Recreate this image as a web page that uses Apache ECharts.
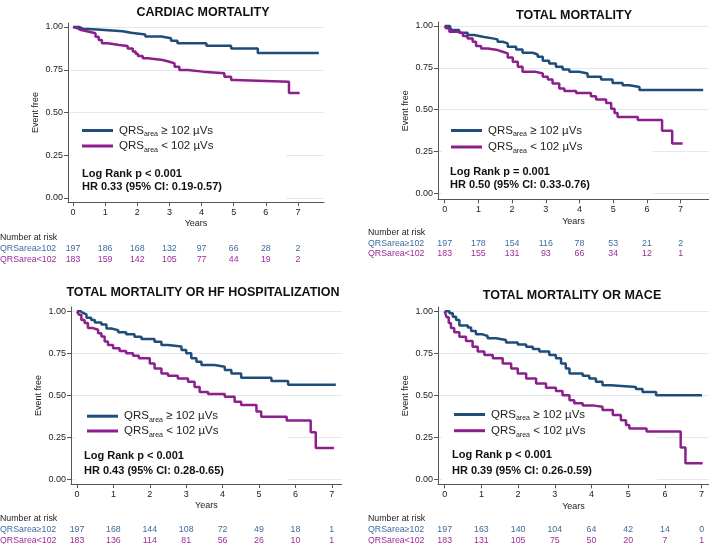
<!DOCTYPE html>
<html><head><meta charset="utf-8">
<script src="https://cdn.jsdelivr.net/npm/echarts@6/dist/echarts.min.js"></script>
<style>html,body{margin:0;padding:0;background:#fff}#c{width:709px;height:544px}</style>
</head><body><div id="c"></div>
<script>
// ---------- data ----------
const years = [0, 1, 2, 3, 4, 5, 6, 7];
const yTicks = [0, 0.25, 0.5, 0.75, 1];
const panelTitles = ['CARDIAC MORTALITY', 'TOTAL MORTALITY', 'TOTAL MORTALITY OR HF HOSPITALIZATION', 'TOTAL MORTALITY OR MACE'];
const logRankTexts = ['Log Rank p < 0.001', 'Log Rank p = 0.001', 'Log Rank p < 0.001', 'Log Rank p < 0.001'];
const hrTexts = ['HR 0.33 (95% CI: 0.19-0.57)', 'HR 0.50 (95% CI: 0.33-0.76)', 'HR 0.43 (95% CI: 0.28-0.65)', 'HR 0.39 (95% CI: 0.26-0.59)'];
const groupLabels = ['QRSarea\u2265102', 'QRSarea<102'];

// Kaplan-Meier points [years, event-free proportion]
const cardiacHi = [[0,1],[0.2,0.99],[0.3,0.985],[0.75,0.975],[1.55,0.966],[1.8,0.956],[2.25,0.944],[2.75,0.934],[3.05,0.92],[3.25,0.905],[4.15,0.89],[4.92,0.875],[5.75,0.848],[7.65,0.848]];
const cardiacLo = [[0,1],[0.05,0.992],[0.15,0.982],[0.25,0.972],[0.5,0.963],[0.7,0.943],[0.8,0.924],[0.9,0.905],[1.08,0.895],[1.44,0.889],[1.7,0.875],[1.86,0.856],[1.95,0.843],[2.02,0.83],[2.17,0.817],[2.33,0.807],[2.79,0.797],[3.0,0.787],[3.16,0.768],[3.31,0.748],[3.57,0.739],[4.04,0.729],[4.71,0.709],[4.92,0.69],[5.03,0.68],[6.72,0.614],[7.05,0.614]];
const totalHi = [[0,1],[0.15,0.99],[0.19,0.976],[0.43,0.96],[0.68,0.946],[0.88,0.936],[1.13,0.926],[1.42,0.92],[1.57,0.906],[1.72,0.896],[1.87,0.876],[2.12,0.86],[2.31,0.84],[2.61,0.83],[2.76,0.816],[2.91,0.792],[3.1,0.776],[3.3,0.756],[3.5,0.74],[3.7,0.726],[3.99,0.716],[4.24,0.696],[4.64,0.68],[4.98,0.66],[5.28,0.646],[5.48,0.636],[5.78,0.617],[7.67,0.617]];
const totalLo = [[0,1],[0.04,0.986],[0.14,0.966],[0.39,0.956],[0.54,0.94],[0.68,0.926],[0.83,0.906],[0.93,0.88],[1.08,0.866],[1.28,0.856],[1.57,0.846],[1.72,0.836],[1.87,0.812],[2.02,0.786],[2.17,0.756],[2.31,0.726],[2.71,0.716],[2.91,0.696],[3.06,0.68],[3.2,0.656],[3.4,0.626],[3.55,0.612],[3.9,0.6],[4.34,0.58],[4.49,0.56],[4.79,0.54],[4.94,0.506],[5.04,0.48],[5.13,0.456],[5.73,0.438],[6.45,0.374],[6.75,0.297],[7.06,0.297]];
const hfHi = [[0,1],[0.1,0.99],[0.17,0.982],[0.26,0.962],[0.39,0.948],[0.49,0.934],[0.67,0.922],[0.81,0.898],[0.94,0.888],[1.13,0.875],[1.35,0.863],[1.58,0.849],[1.77,0.835],[2.13,0.819],[2.32,0.8],[2.5,0.79],[2.87,0.77],[3.0,0.75],[3.14,0.72],[3.28,0.7],[3.42,0.68],[3.78,0.67],[4.06,0.65],[4.24,0.63],[4.51,0.605],[5.34,0.585],[5.8,0.563],[7.11,0.563]];
const hfLo = [[0,1],[0.05,0.98],[0.12,0.948],[0.21,0.93],[0.3,0.9],[0.44,0.89],[0.58,0.87],[0.67,0.85],[0.76,0.82],[0.85,0.8],[0.99,0.78],[1.17,0.763],[1.35,0.75],[1.54,0.735],[1.7,0.72],[2.0,0.69],[2.13,0.66],[2.32,0.63],[2.5,0.617],[2.77,0.6],[3.05,0.58],[3.23,0.55],[3.37,0.52],[3.6,0.508],[4.06,0.492],[4.33,0.462],[4.51,0.443],[4.93,0.403],[5.06,0.373],[5.76,0.35],[6.42,0.28],[6.56,0.187],[7.06,0.187]];
const maceHi = [[0,1],[0.13,0.988],[0.22,0.968],[0.31,0.948],[0.4,0.915],[0.63,0.903],[0.72,0.883],[0.85,0.863],[1.03,0.853],[1.17,0.839],[1.4,0.829],[1.67,0.815],[1.99,0.803],[2.22,0.789],[2.4,0.775],[2.58,0.76],[2.85,0.74],[3.03,0.72],[3.17,0.69],[3.3,0.66],[3.4,0.63],[3.76,0.617],[3.94,0.6],[4.12,0.58],[4.3,0.56],[4.53,0.55],[5.21,0.537],[5.39,0.52],[5.76,0.5],[7.01,0.5]];
const maceLo = [[0,1],[0.05,0.965],[0.11,0.93],[0.17,0.9],[0.26,0.875],[0.4,0.849],[0.58,0.823],[0.76,0.789],[0.9,0.76],[1.08,0.74],[1.31,0.72],[1.58,0.69],[1.81,0.66],[1.99,0.63],[2.22,0.6],[2.49,0.57],[2.76,0.545],[3.03,0.525],[3.21,0.5],[3.4,0.47],[3.53,0.452],[3.76,0.44],[4.03,0.432],[4.3,0.412],[4.58,0.382],[4.8,0.352],[4.94,0.323],[5.03,0.303],[5.5,0.285],[6.43,0.19],[6.56,0.095],[7.03,0.095]];

// Number at risk
const cardiacRiskHi = [197, 186, 168, 132, 97, 66, 28, 2];
const cardiacRiskLo = [183, 159, 142, 105, 77, 44, 19, 2];
const totalRiskHi = [197, 178, 154, 116, 78, 53, 21, 2];
const totalRiskLo = [183, 155, 131, 93, 66, 34, 12, 1];
const hfRiskHi = [197, 168, 144, 108, 72, 49, 18, 1];
const hfRiskLo = [183, 136, 114, 81, 56, 26, 10, 1];
const maceRiskHi = [197, 163, 140, 104, 64, 42, 14, 0];
const maceRiskLo = [183, 131, 105, 75, 50, 20, 7, 1];

// ---------- style / layout ----------
const FONT = '"Liberation Sans", Arial, Helvetica, sans-serif';
const HI_COLOR = '#1f4c78';
const LO_COLOR = '#8c1f8c';
const HI_TEXT = '#3f6c9c';
const LO_TEXT = '#9e2c9c';
const AXIS_COLOR = '#555';
const GRID_COLOR = '#e2eaee';

const L = [
  {axisX:68, x0:73, pxYr:32.14, right:324, y0:198, y1:27, axisY:202, topY:23, titleX:203, titleY:12.5, legX:82, legY:124.5, legGap:2, statX:82, statY:[174,187], box:[72,121,286,200], riskX:0, riskY:[238,249,259.5]},
  {axisX:438, x0:444.7, pxYr:33.7, right:709, y0:193.3, y1:26, axisY:199.3, topY:22, titleX:574, titleY:15.5, legX:451, legY:124.5, legGap:3, statX:450, statY:[172,185], box:[442,120,653,197], riskX:368, riskY:[232.5,243.3,254]},
  {axisX:71, x0:77, pxYr:36.4, right:341.7, y0:479.3, y1:311.3, axisY:484, topY:307, titleX:203, titleY:292.5, legX:87, legY:410.2, legGap:1.3, statX:84, statY:[456,471], box:[75,404,288,482], riskX:0, riskY:[518.7,529.3,540.3]},
  {axisX:438, x0:444.7, pxYr:36.7, right:709, y0:479.3, y1:311.3, axisY:484.3, topY:307, titleX:572, titleY:295.5, legX:454, legY:408.5, legGap:2.7, statX:452, statY:[455,471], box:[442,403,657,482], riskX:368, riskY:[518.7,529.3,540.3]}
];

const panels = [
  {hi: cardiacHi, lo: cardiacLo, riskHi: cardiacRiskHi, riskLo: cardiacRiskLo},
  {hi: totalHi, lo: totalLo, riskHi: totalRiskHi, riskLo: totalRiskLo},
  {hi: hfHi, lo: hfLo, riskHi: hfRiskHi, riskLo: hfRiskLo},
  {hi: maceHi, lo: maceLo, riskHi: maceRiskHi, riskLo: maceRiskLo}
];

const chart = echarts.init(document.getElementById('c'), null, {renderer: 'canvas'});
const grids = [], xAxes = [], yAxes = [], series = [], legends = [];
const axisLineStyle = {color: AXIS_COLOR, width: 1};
const labelStyle = {fontSize: 9, color: '#222', fontFamily: FONT};

panels.forEach((p, i) => {
  const g = L[i];
  const xmin = (g.axisX - g.x0) / g.pxYr;
  const xmax = (g.right - g.x0) / g.pxYr;
  const pxU = g.y0 - g.y1;
  const ymin = -(g.axisY - g.y0) / pxU;
  const ymax = 1 + (g.y1 - g.topY) / pxU;
  grids.push({left: g.axisX, top: g.topY, width: g.right - g.axisX, height: g.axisY - g.topY, containLabel: false, outerBoundsMode: 'none'});
  xAxes.push({
    type: 'value', gridIndex: i, min: xmin, max: xmax, z: 3,
    name: 'Years', nameLocation: 'middle', nameGap: 17.5,
    nameTextStyle: {fontSize: 9, color: '#222', fontFamily: FONT},
    axisLine: {show: true, onZero: false, lineStyle: axisLineStyle},
    axisTick: {show: true, length: 4, customValues: years, lineStyle: axisLineStyle},
    axisLabel: Object.assign({customValues: years, margin: 6}, labelStyle),
    splitLine: {show: false}
  });
  yAxes.push({
    type: 'value', gridIndex: i, min: ymin, max: ymax, z: 3,
    name: 'Event free', nameLocation: 'middle', nameGap: 28, nameRotate: 90,
    nameTextStyle: {fontSize: 9, color: '#222', fontFamily: FONT},
    axisLine: {show: true, onZero: false, lineStyle: axisLineStyle},
    axisTick: {show: true, length: 4, customValues: yTicks, lineStyle: axisLineStyle},
    axisLabel: Object.assign({customValues: yTicks, margin: 5, formatter: v => Number(v).toFixed(2)}, labelStyle),
    splitLine: {show: false}
  });
  series.push({
    type: 'line', name: 'grid' + i, xAxisIndex: i, yAxisIndex: i, data: [], silent: true, z: 1,
    markLine: {
      z: 1, silent: true, symbol: ['none', 'none'], label: {show: false}, animation: false,
      lineStyle: {color: GRID_COLOR, width: 1, type: 'solid'},
      emphasis: {disabled: true},
      data: yTicks.map(v => ({yAxis: v}))
    }
  });
  series.push({
    type: 'line', name: 'hi' + i, xAxisIndex: i, yAxisIndex: i, data: p.hi, step: 'end',
    showSymbol: false, color: HI_COLOR, lineStyle: {color: HI_COLOR, width: 2.5}, z: 3, animation: false
  });
  series.push({
    type: 'line', name: 'lo' + i, xAxisIndex: i, yAxisIndex: i, data: p.lo, step: 'end',
    showSymbol: false, color: LO_COLOR, lineStyle: {color: LO_COLOR, width: 2.5}, z: 3, animation: false
  });
  legends.push({
    data: [{name: 'hi' + i, itemStyle: {color: HI_COLOR}}, {name: 'lo' + i, itemStyle: {color: LO_COLOR}}],
    left: g.legX, top: g.legY, orient: 'vertical', padding: 0,
    itemWidth: 31, itemHeight: 3, itemGap: g.legGap, icon: 'rect', selectedMode: false, z: 4,
    formatter: n => n.indexOf('hi') === 0 ? '{q|QRS}{s|area}{q| \u2265 102 \u00b5Vs}' : '{q|QRS}{s|area}{q| < 102 \u00b5Vs}',
    textStyle: {
      fontFamily: FONT, fontSize: 11.5, color: '#222', padding: [0, 0, 0, 1],
      rich: {
        q: {fontSize: 11.5, fontFamily: FONT, color: '#222', lineHeight: 15, verticalAlign: 'middle'},
        s: {fontSize: 7, fontFamily: FONT, color: '#222', lineHeight: 15, verticalAlign: 'bottom'}
      }
    }
  });
});

chart.setOption({
  animation: false,
  backgroundColor: '#fff',
  grid: grids, xAxis: xAxes, yAxis: yAxes, series: series, legend: legends,
  tooltip: {show: false}
});

// annotations: titles, stats, risk table
const els = [];
panels.forEach((p, i) => {
  const g = L[i];
  els.push({type: 'rect', z: 2, silent: true, shape: {x: g.box[0], y: g.box[1], width: g.box[2] - g.box[0], height: g.box[3] - g.box[1]}, style: {fill: '#fff'}});
  els.push({type: 'text', z: 4, x: g.titleX, y: g.titleY, style: {text: panelTitles[i], font: 'bold 12.5px ' + FONT, fill: '#111', align: 'center', verticalAlign: 'middle'}});
  els.push({type: 'text', z: 4, x: g.statX, y: g.statY[0], style: {text: logRankTexts[i], font: 'bold 11px ' + FONT, fill: '#111', align: 'left', verticalAlign: 'middle'}});
  els.push({type: 'text', z: 4, x: g.statX, y: g.statY[1], style: {text: hrTexts[i], font: 'bold 11px ' + FONT, fill: '#111', align: 'left', verticalAlign: 'middle'}});
  els.push({type: 'text', z: 4, x: g.riskX, y: g.riskY[0], style: {text: 'Number at risk', font: '8.8px ' + FONT, fill: '#222', align: 'left', verticalAlign: 'middle'}});
  els.push({type: 'text', z: 4, x: g.riskX, y: g.riskY[1], style: {text: groupLabels[0], font: '8.8px ' + FONT, fill: HI_TEXT, align: 'left', verticalAlign: 'middle'}});
  els.push({type: 'text', z: 4, x: g.riskX, y: g.riskY[2], style: {text: groupLabels[1], font: '8.8px ' + FONT, fill: LO_TEXT, align: 'left', verticalAlign: 'middle'}});
  years.forEach((yr, k) => {
    const px = chart.convertToPixel({xAxisIndex: i}, yr);
    els.push({type: 'text', z: 4, x: px, y: g.riskY[1], style: {text: String(p.riskHi[k]), font: '8.8px ' + FONT, fill: HI_TEXT, align: 'center', verticalAlign: 'middle'}});
    els.push({type: 'text', z: 4, x: px, y: g.riskY[2], style: {text: String(p.riskLo[k]), font: '8.8px ' + FONT, fill: LO_TEXT, align: 'center', verticalAlign: 'middle'}});
  });
});
chart.setOption({graphic: {elements: els}});
</script>
</body></html>
